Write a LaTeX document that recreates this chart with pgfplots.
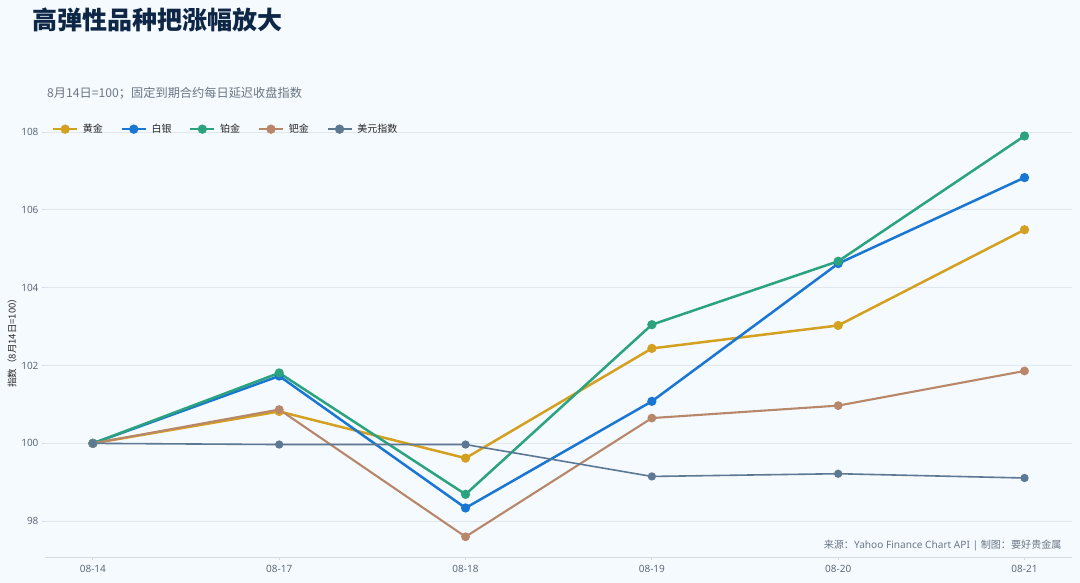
\documentclass[border=0pt]{standalone}
\usepackage{fontspec}
\setmainfont{Noto Sans CJK SC}
\newfontfamily\latinf{Noto Sans}
\usepackage{pgfplots}
\pgfplotsset{compat=1.18}
\definecolor{bg}{HTML}{F5FAFE}
\definecolor{gridc}{HTML}{E1E7EE}
\definecolor{axc}{HTML}{D3DAE2}
\definecolor{tickc}{HTML}{5F6B7A}
\definecolor{titlec}{HTML}{0E2747}
\definecolor{subc}{HTML}{6B7785}
\definecolor{cgold}{HTML}{D4A020}
\definecolor{cblue}{HTML}{1976D2}
\definecolor{cgreen}{HTML}{2BA37F}
\definecolor{cbrown}{HTML}{B8876A}
\definecolor{cusd}{HTML}{5C7893}
\begin{document}
\begin{tikzpicture}[x=1pt,y=1pt]
\fill[bg] (0,0) rectangle (1080,583);
\useasboundingbox (0,0) rectangle (1080,583);
\node[anchor=base west,inner sep=0pt,text=titlec,font=\fontsize{25}{28}\selectfont\bfseries] at (32,553) {高弹性品种把涨幅放大};
\node[anchor=base west,inner sep=0pt,text=subc,font=\fontsize{12.2}{14}\selectfont] at (47,485.5) {8月14日=100；固定到期合约每日延迟收盘指数};
\begin{axis}[
  at={(45pt,26pt)}, anchor=south west,
  scale only axis, width=1027pt, height=437pt,
  xmin=-0.257, xmax=5.255, ymin=97.08, ymax=108.31,
  xtick={0,1,2,3,4,5},
  xticklabels={08-14,08-17,08-18,08-19,08-20,08-21},
  ytick={98,100,102,104,106,108},
  /pgf/number format/assume math mode=true,
  ticklabel style={font=\latinf\fontsize{10}{12}\selectfont, text=tickc},
  xticklabel style={yshift=-2pt},
  axis x line*=bottom, axis y line*=left,
  x axis line style={draw=axc,-},
  y axis line style={draw=none},
  tick align=outside, major tick length=3pt,
  tick style={draw=axc, line width=0.8pt},
  ymajorgrids, major grid style={draw=gridc, line width=0.8pt},
  ylabel={指数（8月14日=100）},
  ylabel style={at={(axis description cs:-0.032,0.495)}, anchor=center, font=\fontsize{9.5}{11}\selectfont, text=black!85},
  clip=false,
  legend columns=-1,
  legend style={at={(axis description cs:0.0065,0.979)}, anchor=west, draw=none, fill=none,
    font=\fontsize{10}{12}\selectfont, inner sep=0pt,
    nodes={inner sep=1pt, text=black!85},
    /tikz/every odd column/.append style={column sep=3.5pt},
    /tikz/every even column/.append style={column sep=16.5pt}},
  legend image code/.code={\draw[line width=2.6pt,mark repeat=2,mark phase=2] plot coordinates {(0pt,0pt)(12pt,0pt)(24pt,0pt)};},
  every axis plot/.append style={mark=*, mark options={solid}},
]
\addplot[cgold, line width=2.5pt, mark size=3.3pt] coordinates {(0,100) (1,100.82) (2,99.62) (3,102.44) (4,103.03) (5,105.49)};
\addlegendentry{黄金}
\addplot[cblue, line width=2.5pt, mark size=3.3pt] coordinates {(0,100) (1,101.73) (2,98.34) (3,101.08) (4,104.62) (5,106.83)};
\addlegendentry{白银}
\addplot[cgreen, line width=2.5pt, mark size=3.3pt] coordinates {(0,100) (1,101.81) (2,98.69) (3,103.05) (4,104.68) (5,107.90)};
\addlegendentry{铂金}
\addplot[cbrown, line width=2.1pt, mark size=3.3pt] coordinates {(0,100) (1,100.87) (2,97.60) (3,100.65) (4,100.97) (5,101.86)};
\addlegendentry{钯金}
\addplot[cusd, line width=1.6pt, mark size=3.3pt] coordinates {(0,100) (1,99.97) (2,99.97) (3,99.15) (4,99.22) (5,99.11)};
\addlegendentry{美元指数}
\node[anchor=east, inner sep=0pt, text=subc, font=\fontsize{10.1}{12}\selectfont] at (axis description cs:0.990,0.0274) {来源：{\latinf Yahoo Finance Chart API | }制图：要好贵金属};
\end{axis}
\end{tikzpicture}
\end{document}
